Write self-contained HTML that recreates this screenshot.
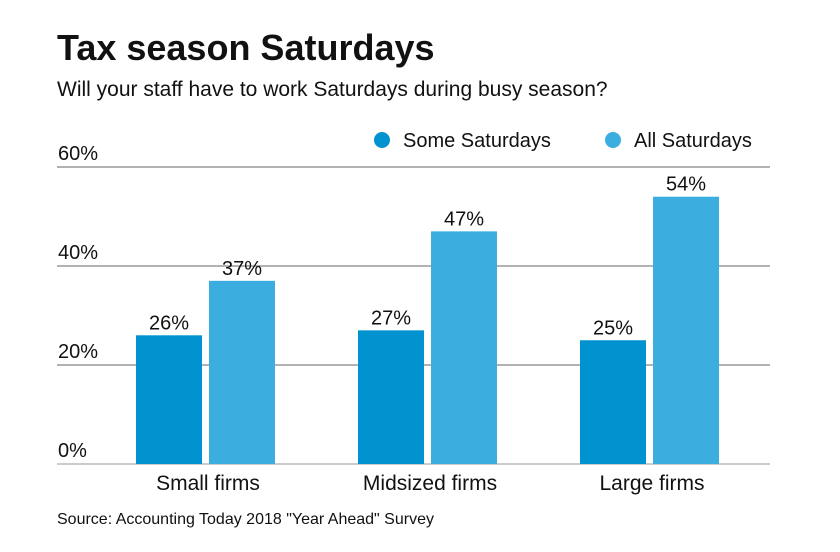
<!DOCTYPE html>
<html><head><meta charset="utf-8"><style>
body{margin:0;width:840px;height:547px;background:#fff;overflow:hidden;font-family:"Liberation Sans",sans-serif;}
</style></head><body>
<svg width="840" height="547" id="c">
<text x="57" y="60" font-size="36" font-weight="bold" fill="#111">Tax season Saturdays</text>
<text x="57" y="96" font-size="21" fill="#111">Will your staff have to work Saturdays during busy season?</text>
<g>
<circle cx="382" cy="140" r="8" fill="#0093cf"/>
<text x="403" y="147" font-size="20" fill="#111">Some Saturdays</text>
<circle cx="613" cy="140" r="8" fill="#3caddf"/>
<text x="634" y="147" font-size="20" fill="#111">All Saturdays</text>
</g>
<g id="grid"></g><g id="bars"></g>
<text x="57" y="524" font-size="16" fill="#111">Source: Accounting Today 2018 "Year Ahead" Survey</text>
</svg>
<script>
const categories=["Small firms","Midsized firms","Large firms"];
const someValues=[26,27,25];
const allValues=[37,47,54];
const ticks=[0,20,40,60];
const NS="http://www.w3.org/2000/svg";
const y=v=>464-v*4.95;
const gx=i=>208+i*222;
function mk(t,a,p,txt){const e=document.createElementNS(NS,t);for(const k in a)e.setAttribute(k,a[k]);if(txt!=null)e.textContent=txt;p.appendChild(e);return e;}
const G=document.getElementById('grid'),B=document.getElementById('bars');
ticks.forEach(t=>{
 const l=mk('line',{x1:57,x2:770,y1:y(t),y2:y(t),stroke:t===0?'#999':'#666','stroke-width':1},G);
 
 
 const tx=mk('text',{x:58,y:y(t)-7,'font-size':20,fill:'#111'},G,t+'%');
 
 
});
categories.forEach((c,i)=>{
 [[someValues[i],'#0093cf',-73,'some'],[allValues[i],'#3caddf',0,'all']].forEach(([v,col,off,s])=>{
  const x=gx(i)+off+1;
  const r=mk('rect',{x:x,y:y(v),width:66,height:464-y(v),fill:col},B);
  
  
  const t=mk('text',{x:x+33,y:y(v)-6,'font-size':20,fill:'#111','text-anchor':'middle'},B,v+'%');
  
  
 });
 const t=mk('text',{x:gx(i),y:490,'font-size':21,fill:'#111','text-anchor':'middle'},B,c);
 
 
});
</script>
</body></html>
